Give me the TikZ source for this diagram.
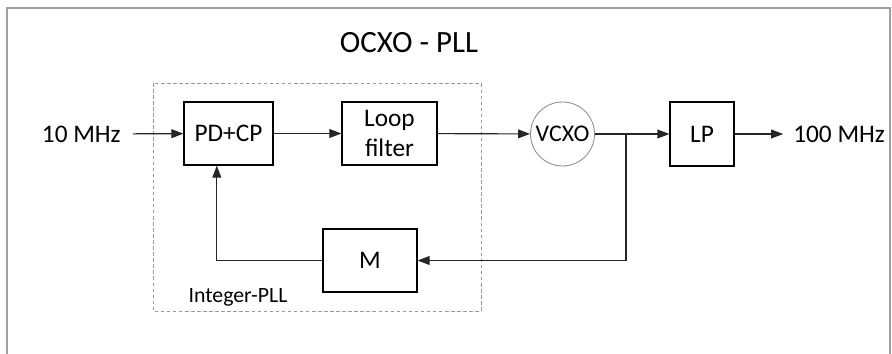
\documentclass[tikz,border=0pt]{standalone}
\usepackage{fontspec}
\setmainfont{Carlito}
\usetikzlibrary{arrows.meta,positioning}

\newcommand\bh{1.575cm}
\newcommand\lw{.8pt}

\begin{document}
\begin{tikzpicture}[x=0.025cm,y=-0.025cm,
		myblock/.style={rectangle,draw=black,text=black,line width=\lw,inner sep=0cm,minimum height=\bh,align=center,font=\fontsize{18}{22}\selectfont},
		mylabel/.style={text=black,inner sep=0cm,font=\fontsize{18}{22}\selectfont},
		myline/.style={line width=\lw,black!85},
		myarrow/.style={myline,-{Triangle[length=.3cm,width=.22cm]}}]
		\useasboundingbox (0,0) rectangle (892,354);
		% outer frame, open at the bottom
		\draw[gray!75,line width=1.3pt] (7,354) -- (7,8) -- (890,8) -- (890,354);
		\node(title)[mylabel,font=\fontsize{22}{26}\selectfont,anchor=base] at (409,53) {OCXO - PLL};
		% integer pll part
		\draw[gray!80,line width=.6pt,dash pattern=on 2.5pt off 1.8pt] (153,83) rectangle (481,311);
		\node(intpll)[mylabel,font=\fontsize{15.5}{19}\selectfont,anchor=base] at (238,302) {Integer-PLL};
		\node(pdcp)[myblock,minimum width=2.225cm] at (228.5,133.5) {PD+CP};
		\node(lf)[myblock,minimum width=2.375cm] at (389.5,133.5) {Loop\\filter};
		\node(mdiv)[myblock,minimum width=2.35cm] at (370,260.5) {M};
		% oscillator and output
		\node(vcxo)[circle,draw=gray!90,line width=.6pt,text=black,inner sep=0cm,minimum size=1.6cm,font=\fontsize{17}{20}\selectfont] at (562.5,134) {VCXO};
		\node(lp)[myblock,minimum width=1.6cm,minimum height=1.6cm] at (702,134) {LP};
		\node(in)[mylabel,anchor=east] at (121,134) {10 MHz};
		\node(out)[mylabel,anchor=west] at (793,134) {100 MHz};
		\coordinate(jn) at (626,134);
		\draw[myarrow,shorten <=8.5pt] (in) -- (pdcp);
		\draw[myarrow] (pdcp) -- (lf);
		\draw[myarrow] (lf) -- (vcxo);
		\draw[myline] (vcxo) -- (jn);
		\draw[myarrow] (jn) -- (lp);
		\draw[myarrow,shorten >=7pt] (lp) -- (out);
		\draw[myarrow] (jn) |- (mdiv);
		\draw[myarrow] (mdiv) -| (pdcp.250);
	\end{tikzpicture}
\end{document}
